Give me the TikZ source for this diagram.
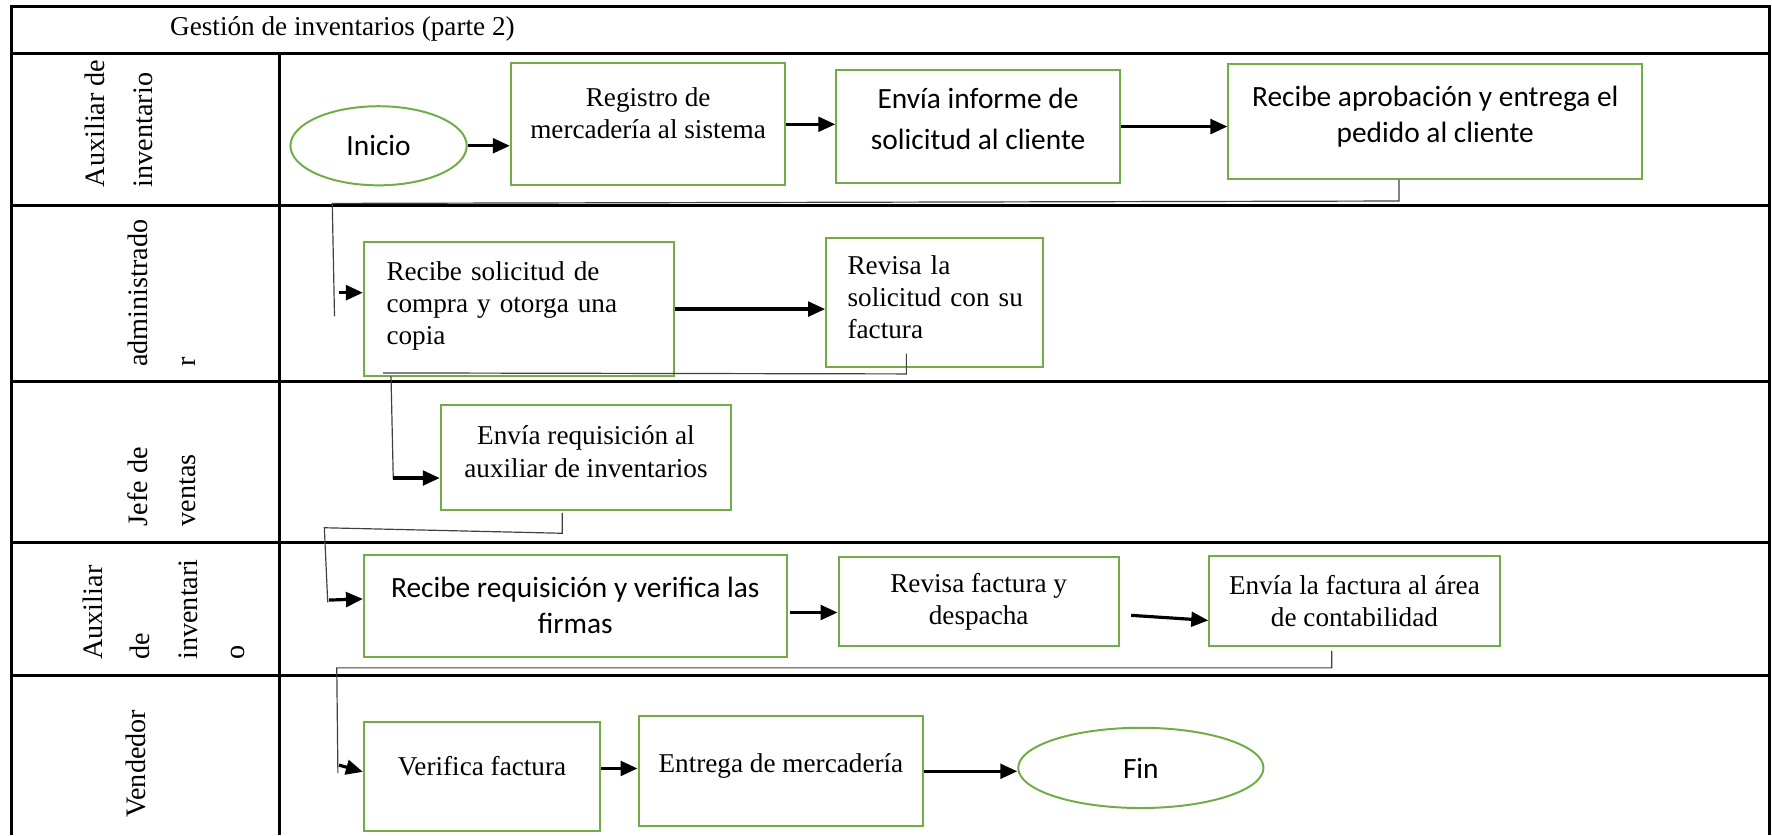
\documentclass[tikz,border=0pt]{standalone}
\usepackage{fontspec}
\setmainfont{Liberation Serif}
\newfontfamily\calibri{Carlito}
\usetikzlibrary{arrows.meta,calc,shapes.geometric}

\definecolor{verdecaja}{HTML}{70AD47}

\tikzset{
    lane/.style={line width=1.5pt},
    sz/.style 2 args={minimum width=#1*0.02cm, minimum height=#2*0.02cm},
    sube/.style={execute at end node={\rule[-#1]{0pt}{#1}}},
    paso/.style={draw=verdecaja, line width=1pt, rectangle, inner sep=0pt, align=center,
        font=\fontsize{13.7}{16.2}\selectfont},
    pasoc/.style={paso, font=\calibri\fontsize{14.8}{18.2}\selectfont},
    terminal/.style={draw=verdecaja, line width=1pt, ellipse, inner sep=0pt,
        font=\calibri\fontsize{14.8}{18.2}\selectfont},
    flecha/.style={line width=1.6pt, -{Triangle[length=0.3cm,width=0.26cm]}},
    guia/.style={line width=0.6pt, black!75},
    carril/.style={rotate=90, anchor=west, align=left, inner sep=0pt,
        font=\fontsize{14.2}{23.9}\selectfont},
}

\begin{document}
\begin{tikzpicture}[x=0.02cm, y=-0.02cm]
    \useasboundingbox (0,0) rectangle (1568,739);

    % Marco y carriles
    \draw[lane] (10,739) -- (10,6) -- (1566,6) -- (1566,739);
    \foreach \y in {47,182,338,480,598} {
        \draw[lane] (10,\y) -- (1566,\y);
    }
    \draw[lane] (247,47) -- (247,739);

    \node[font=\fontsize{13.7}{16}\selectfont] (titulo) at (303,26) {Gestión de inventarios (parte 2)};

    \node[carril] (aux1) at (105,166) {Auxiliar de\\inventario};
    \node[carril] (admin) at (143,325) {administrado\\r};
    \node[carril] (jefe) at (143,466) {Jefe de\\ventas};
    \node[carril] (aux2) at (145,584) {Auxiliar\\de\\inventari\\o};
    \node[carril] (vend) at (120,724) {Vendedor};

    % Pasos
    \node[terminal, sz={156}{70}] (inicio) at (335,129) {Inicio};
    \node[paso, sz={243}{108}, sube=0.4cm] (registro) at (573.5,110) {Registro de\\mercadería al sistema};
    \node[pasoc, sz={251}{100}, sube=0.28cm] (informe) at (865.5,112) {Envía informe de\\[2.3pt]solicitud al cliente};
    \node[pasoc, sz={366}{101}, sube=0.26cm] (aprob) at (1270,107.5) {Recibe aprobación y entrega el\\pedido al cliente};

    \node[paso, sz={274}{119}, align=left, text width=4.68cm, sube=0.22cm] (solicitud) at (459,273.5) {Recibe solicitud de\\compra y otorga una\\copia};
    \node[paso, sz={192}{114}, align=left, text width=3.08cm, sube=0.2cm] (revisa) at (827,268) {Revisa la\\\mbox{solicitud con su}\\factura};

    \node[paso, sz={257}{93}, sube=0.2cm] (requis) at (518.5,404.5) {Envía requisición al\\auxiliar de inventarios};

    \node[pasoc, sz={374}{90}] (recibereq) at (509,536) {Recibe requisición y verifica las\\firmas};
    \node[paso, sz={248}{79}] (revfact) at (866,532.5) {Revisa factura y\\despacha};
    \node[paso, sz={257}{80}] (envfact) at (1198.5,532) {Envía la factura al área\\de contabilidad};

    \node[paso, sz={209}{96}, sube=0.36cm] (verifica) at (426.5,687) {Verifica factura};
    \node[paso, sz={252}{97}, sube=0.3cm] (entrega) at (691,682.5) {Entrega de mercadería};
    \node[terminal, sz={217}{71}] (fin) at (1009.5,679.5) {Fin};

    % Flechas dentro de cada carril
    \draw[flecha] (inicio.east) -- (inicio.east -| registro.west);
    \draw[flecha] (registro.east) -- (registro.east -| informe.west);
    \draw[flecha] (informe.east) -- (informe.east -| aprob.west);
    \draw[flecha] (solicitud.east) -- (solicitud.east -| revisa.west);
    \coordinate (s1) at ($(recibereq.east)+(2,6)$);
    \draw[flecha] (s1) -- (s1 -| revfact.west);
    \draw[flecha] ($(revfact.east)+(10,12)$) -- ($(envfact.west)+(0,17)$);
    \coordinate (s2) at ($(verifica.east)+(0,-7)$);
    \draw[flecha] (s2) -- (s2 -| entrega.west);
    \draw[flecha] (entrega.east) -- (entrega.east -| fin.west);

    % Enlaces entre carriles
    \coordinate (k1) at ($(aprob.south)+(-32,0)$);
    \coordinate (k2) at (294,180);
    \draw[guia] (k1) -- ++(0,19) -- (k2) -- ++(2,100);
    \coordinate (a1) at (300,259);
    \draw[flecha] (a1) -- (a1 -| solicitud.west);

    \coordinate (k3) at ($(revisa.south)+(-25,-13)$);
    \coordinate (k4) at (339,330);
    \draw[guia] (k3) -- ++(0,18) -- (k4);
    \coordinate (k5) at (346,333);
    \draw[guia] (k5) -- ++(2,91);
    \coordinate (a2) at (348,423);
    \draw[flecha] (a2) -- (a2 -| requis.west);

    \coordinate (k6) at ($(requis.south)+(-21,2)$);
    \coordinate (k7) at (287,467);
    \draw[guia] (k6) -- ++(0,18) -- (k7) -- ++(3,66);
    \coordinate (a3) at (291,531);
    \draw[flecha] (a3) -- ($(recibereq.west)+(0,-6)$);

    \coordinate (k8) at ($(envfact.south)+(-20,3)$);
    \coordinate (k9) at (298,591);
    \draw[guia] (k8) -- (k8 |- k9) -- (k9) -- ++(1,93);
    \coordinate (a4) at (300,677);
    \draw[flecha] (a4) -- ($(verifica.west)+(0,-4)$);
\end{tikzpicture}
\end{document}
